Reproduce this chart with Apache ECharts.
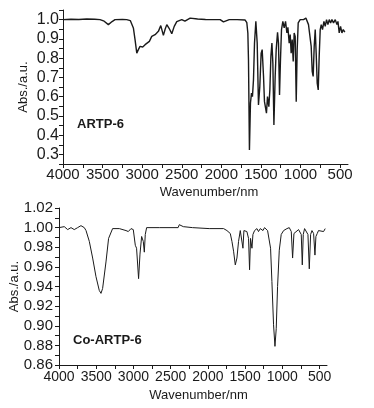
<!DOCTYPE html>
<html>
<head>
<meta charset="utf-8">
<script src="https://cdn.jsdelivr.net/npm/echarts@6/dist/echarts.min.js"></script>
<style>
  html, body { margin: 0; padding: 0; background: #fff; }
  #chart { width: 374px; height: 408px; }
</style>
</head>
<body>
<div id="chart"></div>
<script>
// ARTP-6 spectrum (top panel)
const artpWave = [4000, 3900, 3800, 3700, 3600, 3532, 3480, 3427, 3380, 3343, 3250, 3195, 3150, 3132, 3111, 3090, 3068, 3048, 3027, 2993,
  2963, 2942, 2909, 2879, 2837, 2795, 2765, 2732, 2710, 2689, 2660, 2626, 2595, 2563, 2500, 2460, 2394, 2300, 2200, 2100,
  2015, 1990, 1973, 1950, 1900, 1800, 1699, 1678, 1665, 1657, 1645, 1632, 1619, 1607, 1594, 1581, 1564, 1547, 1531, 1514,
  1497, 1484, 1467, 1455, 1442, 1430, 1417, 1400, 1387, 1374, 1361, 1349, 1336, 1320, 1307, 1290, 1278, 1265, 1253, 1240,
  1223, 1206, 1189, 1172, 1159, 1143, 1130, 1118, 1105, 1092, 1080, 1067, 1054, 1042, 1029, 1004, 962, 932, 911, 899,
  878, 865, 852, 840, 827, 814, 802, 789, 776, 764, 751, 738, 722, 704, 688, 671, 654, 637, 620, 603,
  583, 561, 540, 527, 511, 494, 477, 460, 440]
const artpAbs = [1.000, 1.002, 1.001, 1.003, 1.002, 1.000, 0.992, 0.974, 0.990, 1.000, 1.001, 1.000, 0.995, 0.986, 0.957, 0.896, 0.826, 0.844, 0.861, 0.858,
  0.870, 0.861, 0.887, 0.913, 0.922, 0.939, 0.969, 0.918, 0.950, 0.974, 0.955, 0.927, 0.965, 0.990, 1.000, 0.992, 1.008, 1.003, 1.001, 1.000,
  1.000, 0.996, 0.988, 0.996, 1.000, 1.000, 0.998, 0.984, 0.930, 0.790, 0.323, 0.567, 0.618, 0.600, 0.687, 0.878, 0.991, 0.878, 0.557, 0.652,
  0.826, 0.844, 0.705, 0.574, 0.580, 0.514, 0.600, 0.548, 0.635, 0.809, 0.878, 0.774, 0.453, 0.705, 0.844, 0.934, 0.878, 0.609, 0.790, 0.948,
  0.991, 0.957, 0.991, 0.931, 0.960, 0.878, 0.922, 0.826, 0.896, 0.783, 0.931, 0.913, 0.574, 0.844, 0.983, 1.000, 1.000, 1.008, 1.000, 0.974,
  0.983, 0.861, 0.731, 0.705, 0.861, 0.948, 0.826, 0.670, 0.635, 0.809, 0.948, 0.974, 0.948, 0.991, 0.965, 1.000, 0.974, 1.000, 0.983, 1.000,
  0.983, 1.000, 0.974, 0.991, 0.931, 0.965, 0.931, 0.948, 0.935]

// Co-ARTP-6 spectrum (bottom panel)
const coWave = [4000, 3929, 3884, 3839, 3795, 3750, 3705, 3660, 3637, 3593, 3548, 3503, 3459, 3436, 3414, 3369, 3334, 3280, 3190, 3100,
  3069, 3033, 3002, 2975, 2958, 2931, 2912, 2890, 2868, 2854, 2841, 2823, 2653, 2400, 2384, 2362, 2330, 2206, 1982, 1789,
  1744, 1699, 1677, 1655, 1632, 1610, 1588, 1565, 1543, 1529, 1516, 1498, 1476, 1454, 1440, 1427, 1408, 1395, 1373, 1341,
  1320, 1296, 1260, 1239, 1216, 1198, 1176, 1158, 1140, 1118, 1099, 1082, 1064, 1041, 1015, 983, 938, 907, 880, 862,
  844, 826, 782, 760, 746, 732, 719, 701, 678, 656, 638, 620, 602, 580, 562, 549, 531, 514, 491, 446,
  433, 424]
const coAbs = [1.000, 1.001, 0.998, 1.000, 0.998, 1.000, 1.002, 1.000, 0.997, 0.986, 0.969, 0.950, 0.936, 0.933, 0.938, 0.965, 0.989, 0.999, 0.999, 0.997,
  0.996, 0.999, 0.998, 0.982, 0.979, 0.948, 0.973, 0.991, 0.986, 0.975, 0.993, 1.000, 1.000, 1.000, 1.003, 1.001, 1.001, 1.000, 0.999, 0.999,
  0.997, 0.994, 0.986, 0.976, 0.962, 0.969, 0.986, 0.997, 0.999, 0.979, 0.997, 0.999, 0.996, 0.989, 0.957, 0.989, 0.979, 0.993, 0.997, 0.999,
  0.996, 0.999, 0.997, 1.000, 0.999, 0.997, 0.996, 0.979, 0.945, 0.901, 0.879, 0.897, 0.940, 0.977, 0.993, 0.997, 0.999, 1.000, 0.996, 0.969,
  0.994, 0.996, 0.998, 0.999, 0.993, 0.962, 0.993, 0.999, 1.000, 0.993, 0.958, 0.993, 0.997, 0.994, 0.972, 0.991, 0.994, 0.997, 0.999, 0.996,
  0.997, 0.999]

const xLabels = [500, 1000, 1500, 2000, 2500, 3000, 3500, 4000]
const xTicks = [500, 750, 1000, 1250, 1500, 1750, 2000, 2250, 2500, 2750, 3000, 3250, 3500, 3750, 4000]

const ink = '#1a1a1a'
const font = 'Liberation Sans, Arial, sans-serif'

const chart = echarts.init(document.getElementById('chart'))

function xAxis(gridIndex, size, margin, nameGap, shift) {
  return {
    type: 'value', gridIndex, inverse: true, min: 400, max: 4000,
    name: 'Wavenumber/nm', nameLocation: 'middle', nameGap, nameMoveOverlap: false,
    nameTextStyle: { color: ink, fontSize: 13, fontFamily: font, padding: [0, 0, 0, shift] },
    axisLine: { show: true, lineStyle: { color: ink, width: 1 } },
    axisTick: { show: true, inside: false, customValues: xTicks, length: 4, lineStyle: { color: ink, width: 1 } },
    axisLabel: {
      customValues: xLabels, color: ink, fontSize: size, fontFamily: font, margin,
      showMinLabel: true, showMaxLabel: true, hideOverlap: false,
      formatter: v => String(Math.round(v)),
    },
    splitLine: { show: false },
  }
}

chart.setOption({
  animation: false,
  grid: [
    { left: 63, top: 10, width: 285, height: 154, outerBoundsMode: 'none' },
    { left: 59, top: 208, width: 268, height: 157, outerBoundsMode: 'none' },
  ],
  xAxis: [xAxis(0, 15, 3, 22, 7), xAxis(1, 14, 5, 24, 11)],
  yAxis: [
    {
      type: 'value', gridIndex: 0, min: 0.25, max: 1.05, interval: 0.05,
      name: 'Abs./a.u.', nameLocation: 'middle', nameGap: 33, nameMoveOverlap: false,
      nameTextStyle: { color: ink, fontSize: 13, fontFamily: font },
      axisLine: { show: true, lineStyle: { color: ink, width: 1 } },
      axisTick: { show: true, length: 4, lineStyle: { color: ink } },
      axisLabel: {
        color: ink, fontSize: 16, fontFamily: font, margin: 4,
        formatter: v => { const r = Math.round(v * 100); return r % 10 === 0 && r <= 100 ? (r / 100).toFixed(1) : '' },
      },
      splitLine: { show: false },
    },
    {
      type: 'value', gridIndex: 1, min: 0.86, max: 1.02, interval: 0.01,
      name: 'Abs./a.u.', nameLocation: 'middle', nameGap: 38, nameMoveOverlap: false,
      nameTextStyle: { color: ink, fontSize: 13, fontFamily: font },
      axisLine: { show: true, lineStyle: { color: ink, width: 1 } },
      axisTick: { show: true, length: 4, lineStyle: { color: ink } },
      axisLabel: {
        color: ink, fontSize: 15, fontFamily: font, margin: 6,
        formatter: v => { const r = Math.round(v * 100); return r % 2 === 0 ? (r / 100).toFixed(2) : '' },
      },
      splitLine: { show: false },
    },
  ],
  graphic: [
    { type: 'text', left: 77, top: 118, style: { text: 'ARTP-6', fill: ink, font: 'bold 13px ' + font } },
    { type: 'text', left: 73, top: 334, style: { text: 'Co-ARTP-6', fill: ink, font: 'bold 13px ' + font } },
  ],
  series: [
    {
      type: 'line', xAxisIndex: 0, yAxisIndex: 0, showSymbol: false,
      data: artpWave.map((w, i) => [w, artpAbs[i]]),
      lineStyle: { color: ink, width: 1.4 },
    },
    {
      type: 'line', xAxisIndex: 1, yAxisIndex: 1, showSymbol: false,
      data: coWave.map((w, i) => [w, coAbs[i]]),
      lineStyle: { color: ink, width: 1 },
    },
  ],
})
</script>
</body>
</html>
